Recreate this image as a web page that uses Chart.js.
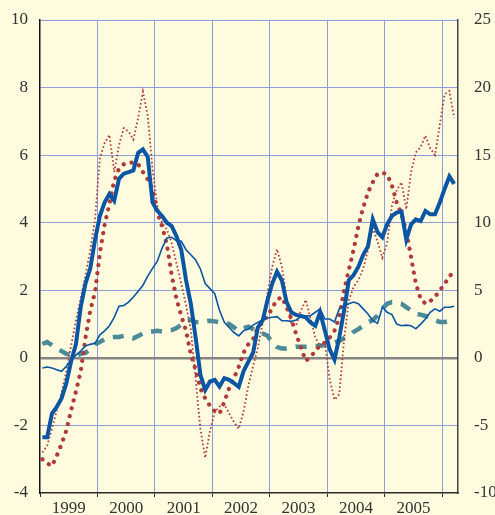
<!DOCTYPE html>
<html>
<head>
<meta charset="utf-8">
<script src="https://cdn.jsdelivr.net/npm/chart.js@4.4.1/dist/chart.umd.min.js"></script>
<style>
  html, body { margin: 0; padding: 0; background: #fffbdf; }
  #wrap { width: 495px; height: 515px; }
</style>
</head>
<body>
<div id="wrap"><canvas id="chart" width="495" height="515"></canvas></div>
<script>
// monthly series, Jan 1999 - Mar 2006
const years = ['1999', '2000', '2001', '2002', '2003', '2004', '2005'];

const thickBlue = [
  -2.35, -2.35, -1.65, -1.45, -1.2, -0.75, -0.1, 0.4, 1.5, 2.2, 2.65, 3.5,
  4.2, 4.6, 4.85, 4.65, 5.3, 5.45, 5.5, 5.55, 6.07, 6.17, 5.95, 4.6,
  4.35, 4.2, 4.0, 3.9, 3.6, 3.2, 2.3, 1.6, 0.6, -0.5, -0.95, -0.7,
  -0.65, -0.85, -0.6, -0.65, -0.75, -0.86, -0.4, -0.12, 0.15, 0.9, 1.1, 1.7,
  2.2, 2.55, 2.3, 1.65, 1.35, 1.27, 1.24, 1.2, 1.05, 0.95, 1.35, 0.8,
  0.25, -0.05, 0.6, 1.4, 2.3, 2.45, 2.7, 3.05, 3.3, 4.1, 3.72, 3.57,
  3.95, 4.2, 4.3, 4.33, 3.5, 3.95, 4.1, 4.05, 4.35, 4.25, 4.25, 4.6,
  5.0, 5.37, 5.15
];

const thinBlue = [
  -0.3, -0.27, -0.3, -0.35, -0.4, -0.25, -0.05, 0.08, 0.2, 0.35, 0.4, 0.43,
  0.68, 0.8, 0.95, 1.2, 1.53, 1.55, 1.65, 1.8, 1.97, 2.15, 2.42, 2.65,
  2.86, 3.25, 3.55, 3.57, 3.47, 3.45, 3.2, 3.05, 2.9, 2.63, 2.2, 2.05,
  1.9, 1.4, 1.05, 0.9, 0.75, 0.65, 0.8, 0.85, 0.97, 1.05, 1.13, 1.18,
  1.2, 1.22, 1.1, 1.1, 1.08, 1.12, 1.22, 1.24, 1.25, 1.35, 1.45, 1.15,
  1.15, 1.06, 1.45, 1.53, 1.6, 1.65, 1.6, 1.45, 1.3, 1.1, 1.02, 1.5,
  1.35, 1.28, 1.0, 0.95, 0.97, 0.95, 0.86, 1.0, 1.15, 1.35, 1.45, 1.38,
  1.5, 1.5, 1.53
];

const redDots = [
  -3.0, -3.12, -3.2, -2.9, -2.55, -2.15, -1.55, -1.0, -0.4, 0.6, 1.4, 1.95,
  3.1, 3.95, 4.55, 5.25, 5.6, 5.73, 5.77, 5.78, 5.73, 5.5, 5.28, 5.0,
  4.3, 3.9, 3.35, 2.45, 1.75, 1.25, 0.8, 0.1, -0.35, -0.9, -1.2, -1.42,
  -1.58, -1.65, -1.3, -0.9, -0.6, -0.27, 0.15, 0.4, 0.55, 0.9, 1.1, 1.22,
  1.48, 1.72, 1.8, 1.5, 1.15, 0.7, 0.3, -0.09, 0.03, 0.2, 0.38, 0.45,
  0.6, 0.8, 1.2, 2.0, 2.6, 3.2, 3.9, 4.45, 4.9, 5.2, 5.45, 5.48,
  5.43, 5.1, 4.6, 4.25, 3.75, 2.98, 2.2, 1.75, 1.6, 1.68, 1.8, 2.0,
  2.18, 2.42, 2.54
];

// right-hand scale
const redThin = [
  -7.0, -6.5, -5.25, -3.9, -2.6, -1.0, 0.9, 2.75, 4.4, 6.1, 8.0, 10.25,
  14.75, 15.9, 16.5, 13.75, 15.75, 17.0, 16.75, 16.15, 17.75, 19.7, 17.9, 14.0,
  11.25, 10.0, 9.5, 8.5, 7.0, 5.5, 3.9, 2.1, -1.55, -5.25, -7.4, -5.4,
  -4.0, -3.6, -3.45, -4.1, -4.75, -5.25, -4.0, -2.1, -0.6, 0.75, 2.6, 4.75,
  6.75, 8.05, 6.75, 4.5, 2.5, 2.4, 3.5, 4.3, 2.9, 1.5, 0.9, 1.1,
  -1.6, -3.1, -2.7, 1.3, 4.25, 5.25, 5.75, 6.6, 8.0, 9.6, 8.6, 7.4,
  8.5, 11.25, 12.4, 13.0, 11.0, 13.75, 15.2, 15.6, 16.45, 15.5, 15.0, 17.25,
  19.5, 19.75, 17.75
];

const tealDash = [
  0.41, 0.47, 0.38, 0.28, 0.2, 0.12, 0.08, 0.05, 0.12, 0.15, 0.25, 0.4,
  0.47, 0.55, 0.6, 0.62, 0.62, 0.65, 0.62, 0.58, 0.65, 0.72, 0.77, 0.78,
  0.8, 0.78, 0.8, 0.82, 0.88, 0.98, 1.1, 1.12, 1.06, 1.05, 1.08, 1.1,
  1.08, 1.05, 1.06, 1.0, 0.9, 0.8, 0.88, 0.92, 0.85, 0.75, 0.72, 0.66,
  0.45, 0.32, 0.28, 0.28, 0.3, 0.33, 0.33, 0.33, 0.34, 0.35, 0.36, 0.38,
  0.38, 0.45, 0.5, 0.58, 0.66, 0.77, 0.85, 0.95, 1.05, 1.12, 1.25, 1.45,
  1.6, 1.65, 1.62, 1.6, 1.5, 1.4, 1.3, 1.28, 1.24, 1.2, 1.12, 1.06,
  1.06, 1.08, 1.06
];

const leftTicks = [-4, -2, 0, 2, 4, 6, 8, 10];
const rightTicks = [-10, -5, 0, 5, 10, 15, 20, 25];

const BLUE = '#0a56a4';
const RED = '#b0393a';
const TEAL = '#4b8b98';
const GRID = '#8f9ed8';

function toPoints(arr) {
  return arr.map((v, i) => ({ x: i + 0.5, y: v }));
}

const bgPlugin = {
  id: 'bg',
  beforeDraw(chart) {
    const ctx = chart.ctx;
    ctx.save();
    ctx.fillStyle = '#fffbdf';
    ctx.fillRect(0, 0, chart.width, chart.height);
    ctx.restore();
  }
};

const serif = { family: '"Liberation Serif", "Times New Roman", serif', size: 17 };

// keep the tick padding from pushing the plot area in
function fixVertical(width) {
  return axis => {
    axis.width = width;
    axis.paddingTop = 10;
    axis.paddingBottom = 10;
  };
}

new Chart(document.getElementById('chart'), {
  type: 'line',
  data: {
    datasets: [
      { data: toPoints(thickBlue), borderColor: BLUE, borderWidth: 4, yAxisID: 'y' },
      { data: toPoints(thinBlue), borderColor: BLUE, borderWidth: 1.6, yAxisID: 'y' },
      { data: toPoints(redDots), borderColor: RED, borderWidth: 4.2, borderDash: [0.1, 8], borderCapStyle: 'round', yAxisID: 'y' },
      { data: toPoints(redThin), borderColor: RED, borderWidth: 1.8, borderDash: [1.6, 2.4], yAxisID: 'y2' },
      { data: toPoints(tealDash), borderColor: TEAL, borderWidth: 4.5, borderDash: [11, 9], yAxisID: 'y' }
    ]
  },
  options: {
    responsive: false,
    animation: false,
    events: [],
    layout: { autoPadding: false, padding: { top: 20, left: 0, right: 0, bottom: 0 } },
    elements: {
      point: { radius: 0 },
      line: { tension: 0, fill: false }
    },
    plugins: { legend: { display: false }, tooltip: { enabled: false } },
    scales: {
      x: {
        type: 'linear',
        min: 0,
        max: 87.3,
        afterBuildTicks: axis => {
          const t = [];
          for (let m = 0; m <= 84; m += 6) t.push({ value: m });
          axis.ticks = t;
        },
        afterFit: axis => { axis.height = 22; },
        border: { color: '#2a2a2a', width: 1.5 },
        grid: {
          color: c => (c.tick && c.tick.value % 12 === 0 && c.tick.value > 0) ? GRID : 'rgba(0,0,0,0)',
          tickColor: c => (c.tick && c.tick.value % 12 === 0) ? '#2a2a2a' : 'rgba(0,0,0,0)',
          lineWidth: 1,
          tickLength: 4
        },
        ticks: {
          autoSkip: false,
          maxRotation: 0,
          padding: 1,
          color: '#333',
          font: serif,
          callback: v => (v % 12 === 6) ? years[(v - 6) / 12] : ''
        }
      },
      y: {
        position: 'left',
        min: -4,
        max: 10,
        afterBuildTicks: axis => { axis.ticks = leftTicks.map(v => ({ value: v })); },
        afterFit: fixVertical(40),
        border: { color: '#111', width: 1.5 },
        grid: {
          drawTicks: false,
          color: c => c.tick.value === 0 ? '#858585' : (c.tick.value === -4 ? 'rgba(0,0,0,0)' : GRID),
          lineWidth: c => c.tick.value === 0 ? 2.6 : 1
        },
        ticks: { padding: 12, color: '#333', font: serif }
      },
      y2: {
        position: 'right',
        min: -10,
        max: 25,
        afterBuildTicks: axis => { axis.ticks = rightTicks.map(v => ({ value: v })); },
        afterFit: fixVertical(37),
        border: { color: '#444', width: 1.5 },
        grid: { drawOnChartArea: false, drawTicks: false },
        ticks: { padding: 16, color: '#333', font: serif }
      }
    }
  },
  plugins: [bgPlugin]
});
</script>
</body>
</html>
